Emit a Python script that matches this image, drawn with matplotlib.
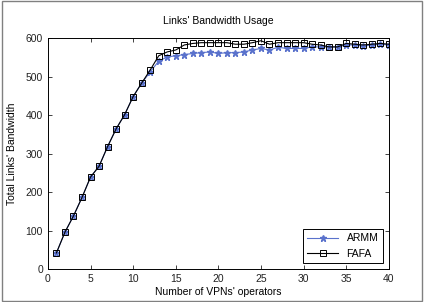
import numpy as np
import matplotlib
matplotlib.use('Agg')
import matplotlib.pyplot as plt
from matplotlib.patches import Rectangle

plt.rcParams['font.family'] = ['Liberation Sans', 'DejaVu Sans']

# data
operators = list(range(1, 41))
armm = [42, 96, 138, 186, 239, 267, 318, 364, 401, 448, 483, 512, 540, 551, 554,
        557, 560, 562, 564, 560, 562, 562, 564, 569, 573, 569, 576, 573, 573, 573,
        577, 577, 577, 577, 582, 582, 579, 582, 584, 582]
fafa = [42, 96, 138, 186, 239, 267, 318, 364, 401, 448, 483, 517, 554, 564, 569,
        582, 586, 588, 588, 588, 588, 584, 584, 588, 593, 584, 588, 588, 588, 588,
        584, 582, 577, 577, 586, 584, 582, 584, 586, 584]

fig = plt.figure(figsize=(4.24, 3.02), dpi=100)
ax = fig.add_axes([0.113, 0.109, 0.804, 0.765])

ax.plot(operators, armm, '-*', color='#5a72cc', lw=0.8, ms=4.5, label='ARMM')
ax.plot(operators, fafa, '-s', color='black', lw=0.8, ms=5, mfc='none', mew=0.7, label='FAFA')

ax.set_xlim(0, 40)
ax.set_ylim(0, 600)
ax.set_xticks(range(0, 41, 5))
ax.set_yticks(range(0, 601, 100))
ax.tick_params(direction='in', top=True, right=True, labelsize=7.5, length=3, width=0.6,
               colors='#222222')
for s in ax.spines.values():
    s.set_linewidth(0.7)

ax.set_title("Links' Bandwidth Usage", fontsize=7.5, pad=10)
ax.set_xlabel("Number of VPNs' operators", fontsize=7.5, labelpad=2)
ax.set_ylabel("Total Links' Bandwidth", fontsize=7.5, labelpad=6)

leg = ax.legend(loc='lower right', fontsize=7.5, fancybox=False, framealpha=1,
                edgecolor='black', handlelength=3, borderaxespad=0.6)
leg.get_frame().set_linewidth(0.7)

fig.patches.append(Rectangle((0.004, 0.004), 0.992, 0.992, transform=fig.transFigure,
                             fill=False, edgecolor='#808080', lw=1))

fig.savefig('out.png', dpi=100)
